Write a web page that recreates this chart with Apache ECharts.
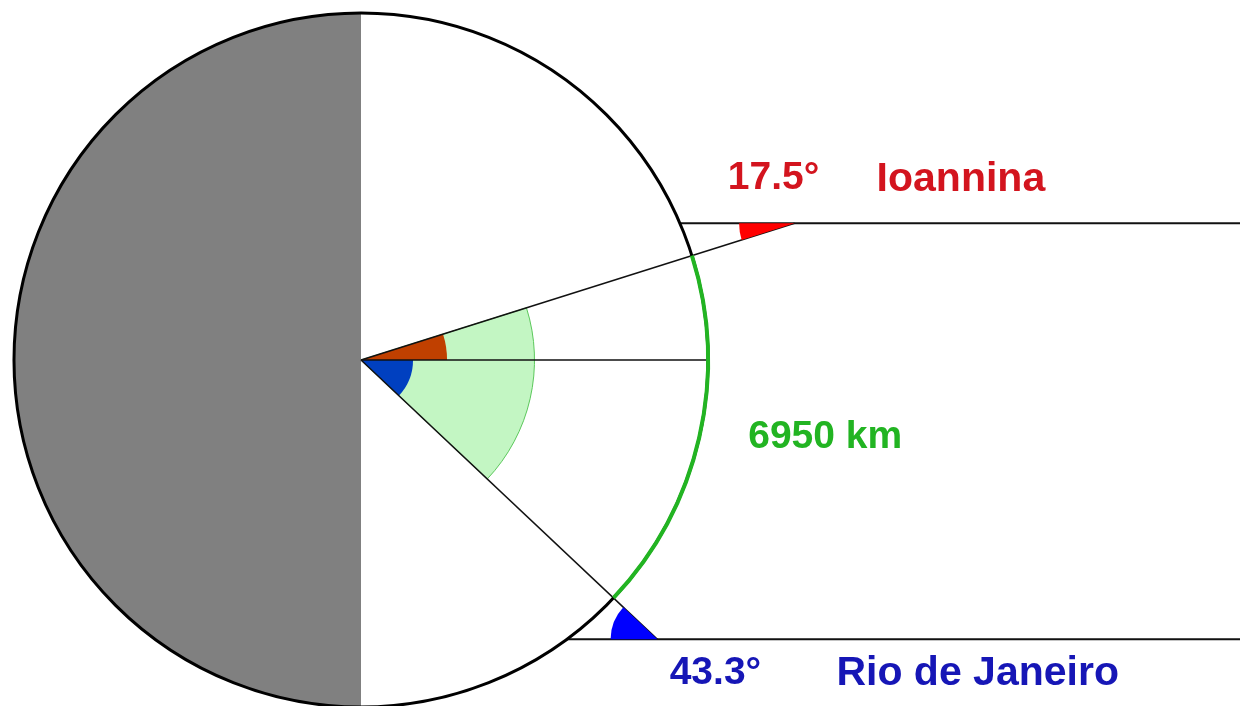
<!DOCTYPE html>
<html>
<head>
<meta charset="utf-8">
<title>Ioannina - Rio de Janeiro</title>
<script src="https://cdn.jsdelivr.net/npm/echarts@6/dist/echarts.min.js"></script>
<style>
  html, body { margin: 0; padding: 0; background: #fff; }
  #chart { width: 1240px; height: 706px; }
</style>
</head>
<body>
<div id="chart"></div>
<script>
  // the two places, their sun angle in degrees (north is positive)
  const places = ['Ioannina', 'Rio de Janeiro']
  const sunAngles = [17.5, -43.3]
  const angleLabels = ['17.5°', '43.3°']
  // height of each horizontal sun ray, in earth radii
  const rayLevels = [0.394, -0.805]
  const arcLabel = '6950 km'

  // view window in earth radii, centre of the earth at 0,0
  const xExtent = [-1.0403, 2.5331]
  const yExtent = [-0.9971, 1.0375]

  const textColors = ['#d3141e', '#1616b6']
  const wedgeColors = ['#ff0000', '#0000ff']
  const centreColors = ['#c04000', '#0040c0']
  const green = '#22b422'
  const font = 'bold 39px "Liberation Sans", Arial, sans-serif'
  const nameFont = 'bold 41px "Liberation Sans", Arial, sans-serif'

  const rad = d => d * Math.PI / 180

  function renderItem(params, api) {
    const c = api.coord([0, 0])
    const R = api.size([1, 0])[0]
    const right = params.coordSys.x + params.coordSys.width
    const kids = []

    // night side
    kids.push({
      type: 'sector',
      shape: { cx: c[0], cy: c[1], r: R, startAngle: Math.PI / 2, endAngle: Math.PI * 1.5 },
      style: { fill: '#808080' }
    })
    // angle between the two places
    kids.push({
      type: 'sector',
      shape: { cx: c[0], cy: c[1], r: R * 0.5, startAngle: -rad(sunAngles[0]), endAngle: -rad(sunAngles[1]) },
      style: { fill: '#c3f6c3', stroke: '#5cc85c', lineWidth: 1 }
    })
    // small angles at the centre
    const centreR = [0.248, 0.15]
    sunAngles.forEach((a, i) => {
      const s = Math.min(0, -rad(a)), e = Math.max(0, -rad(a))
      kids.push({
        type: 'sector',
        shape: { cx: c[0], cy: c[1], r: R * centreR[i], startAngle: s, endAngle: e },
        style: { fill: centreColors[i] }
      })
    })
    // equator line
    kids.push({
      type: 'line',
      shape: { x1: c[0], y1: c[1], x2: api.coord([1, 0])[0], y2: c[1] },
      style: { stroke: '#111', lineWidth: 1.5 }
    })
    // rays from the centre and the horizontal sun rays
    sunAngles.forEach((a, i) => {
      const h = rayLevels[i]
      const v = api.coord([h / Math.tan(rad(a)), h])
      const edge = api.coord([Math.sqrt(1 - h * h), h])
      kids.push({
        type: 'line',
        shape: { x1: c[0], y1: c[1], x2: v[0], y2: v[1] },
        style: { stroke: '#111', lineWidth: 1.5 }
      })
      kids.push({
        type: 'line',
        shape: { x1: edge[0], y1: edge[1], x2: right, y2: edge[1] },
        style: { stroke: '#111', lineWidth: 2 }
      })
    })
    // earth outline
    kids.push({
      type: 'circle',
      shape: { cx: c[0], cy: c[1], r: R },
      style: { fill: null, stroke: '#000', lineWidth: 3 }
    })
    // distance on the surface
    kids.push({
      type: 'arc',
      shape: { cx: c[0], cy: c[1], r: R, startAngle: -rad(sunAngles[0]), endAngle: -rad(sunAngles[1]), clockwise: true },
      style: { stroke: green, lineWidth: 4, fill: null }
    })
    // angles where the sun rays meet the radius
    const wedgeR = [0.16, 0.135]
    sunAngles.forEach((a, i) => {
      const h = rayLevels[i]
      const v = api.coord([h / Math.tan(rad(a)), h])
      let back = -rad(180 + a)
      if (back < 0) back += 2 * Math.PI
      kids.push({
        type: 'sector',
        shape: { cx: v[0], cy: v[1], r: R * wedgeR[i], startAngle: Math.min(Math.PI, back), endAngle: Math.max(Math.PI, back) },
        style: { fill: wedgeColors[i] }
      })
    })
    // labels
    sunAngles.forEach((a, i) => {
      const h = rayLevels[i]
      const v = api.coord([h / Math.tan(rad(a)), h])
      const above = h > 0
      kids.push({
        type: 'text',
        style: {
          text: angleLabels[i], x: v[0] + (above ? -21 : 58), y: v[1] + (above ? -45 : 34),
          fill: textColors[i], font: font, align: 'center', verticalAlign: 'middle'
        }
      })
      kids.push({
        type: 'text',
        style: {
          text: places[i], x: above ? v[0] + 82 : v[0] + 179, y: v[1] + (above ? -44 : 34),
          fill: textColors[i], font: nameFont, align: 'left', verticalAlign: 'middle'
        }
      })
    })
    const mid = rad((sunAngles[0] + sunAngles[1]) / 2)
    const m = api.coord([Math.cos(mid), Math.sin(mid)])
    kids.push({
      type: 'text',
      style: {
        text: arcLabel, x: m[0] + 49, y: m[1],
        fill: green, font: font, align: 'left', verticalAlign: 'middle'
      }
    })

    return { type: 'group', children: kids }
  }

  const chart = echarts.init(document.getElementById('chart'))
  chart.setOption({
    backgroundColor: '#fff',
    animation: false,
    grid: { left: 0, right: 0, top: 0, bottom: 0 },
    xAxis: { type: 'value', min: xExtent[0], max: xExtent[1], show: false },
    yAxis: { type: 'value', min: yExtent[0], max: yExtent[1], show: false },
    series: [{
      type: 'custom',
      renderItem: renderItem,
      clip: false,
      data: [[0, 0]]
    }]
  })
</script>
</body>
</html>
